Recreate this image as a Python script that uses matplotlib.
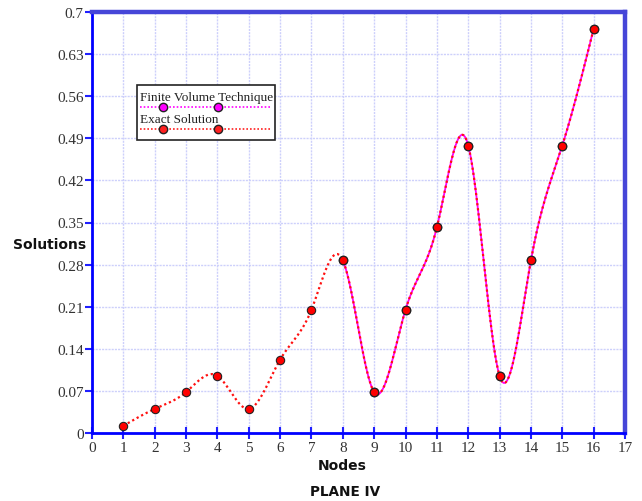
import numpy as np
import matplotlib
matplotlib.use("Agg")
import matplotlib.pyplot as plt
from matplotlib.lines import Line2D
from matplotlib.patches import Rectangle

# ---- data ----
nodes = [1, 2, 3, 4, 5, 6, 7, 8, 9, 10, 11, 12, 13, 14, 15, 16]
exact = [0.012, 0.040, 0.068, 0.095, 0.040, 0.122, 0.205, 0.287,
         0.068, 0.205, 0.342, 0.478, 0.095, 0.287, 0.478, 0.672]
fvt_nodes = [8, 9, 10, 11, 12, 13, 14, 15, 16]
fvt = [0.287, 0.068, 0.205, 0.342, 0.478, 0.095, 0.287, 0.478, 0.672]
xticks = list(range(0, 18))
yticks = [0, 0.07, 0.14, 0.21, 0.28, 0.35, 0.42, 0.49, 0.56, 0.63, 0.7]
ytick_labels = ["0", "0.07", "0.14", "0.21", "0.28", "0.35", "0.42", "0.49", "0.56", "0.63", "0.7"]


def natural_spline(x, y, n=60):
    x = np.asarray(x, float)
    y = np.asarray(y, float)
    k = len(x)
    h = np.diff(x)
    A = np.zeros((k, k))
    b = np.zeros(k)
    A[0, 0] = 1
    A[-1, -1] = 1
    for i in range(1, k - 1):
        A[i, i - 1] = h[i - 1]
        A[i, i] = 2 * (h[i - 1] + h[i])
        A[i, i + 1] = h[i]
        b[i] = 3 * ((y[i + 1] - y[i]) / h[i] - (y[i] - y[i - 1]) / h[i - 1])
    c = np.linalg.solve(A, b)
    xs, ys = [], []
    for i in range(k - 1):
        t = np.linspace(0, h[i], n, endpoint=(i == k - 2))
        bb = (y[i + 1] - y[i]) / h[i] - h[i] * (2 * c[i] + c[i + 1]) / 3
        d = (c[i + 1] - c[i]) / (3 * h[i])
        xs.append(x[i] + t)
        ys.append(y[i] + bb * t + c[i] * t ** 2 + d * t ** 3)
    return np.concatenate(xs), np.concatenate(ys)


W, H = 642, 502
fig = plt.figure(figsize=(W / 100, H / 100), dpi=100)
L, R, T, B = 92, 625, 13, 434
ax = fig.add_axes([L / W, (H - B) / H, (R - L) / W, (B - T) / H])

ax.set_xlim(0, 17)
ax.set_ylim(0, 0.7)

# grid
ax.set_xticks(xticks)
ax.set_yticks(yticks)
ax.grid(True, color="#cdd0fb", linestyle=(0, (1.5, 0.8)), linewidth=1.0)
ax.set_axisbelow(True)

# curves
sx_e, sy_e = natural_spline(nodes, exact)
mask = sx_e >= fvt_nodes[0]
ax.plot(sx_e[mask], sy_e[mask], color="#ff00ff", linewidth=1.3, zorder=3)
ax.plot(sx_e, sy_e, color="#ff1010", linestyle=(0, (1, 1.3)), linewidth=1.6, zorder=4)
ax.plot(fvt_nodes, fvt, linestyle="none", marker="o", markersize=6,
        markerfacecolor="#ff00ff", markeredgecolor="#222222", zorder=5)
ax.plot(nodes, exact, linestyle="none", marker="o", markersize=6,
        markerfacecolor="#ff0000", markeredgecolor="#222222", markeredgewidth=0.8, zorder=6)

# spines
for s in ["left", "bottom"]:
    ax.spines[s].set_color("#0000ff")
    ax.spines[s].set_linewidth(2)
for s in ["top", "right"]:
    ax.spines[s].set_color("#4646d8")
    ax.spines[s].set_linewidth(3.2)

ax.tick_params(axis="x", direction="inout", length=8, width=1.5, color="#2020ff",
               labelsize=11, pad=2)
ax.tick_params(axis="y", direction="out", length=5, width=1.5, color="#2020ff",
               labelsize=11, pad=1)
ax.set_yticklabels(ytick_labels)
for lab in ax.get_xticklabels() + ax.get_yticklabels():
    lab.set_fontfamily("Liberation Serif")
    lab.set_color("#333333")

# axis titles
fig.text(50 / W, 1 - 245 / H, "Solutions", ha="center", va="center",
         fontsize=10, fontweight="bold", family="DejaVu Sans", color="#111111")
fig.text(342 / W, 1 - 466 / H, "Nodes", ha="center", va="center",
         fontsize=10, fontweight="bold", family="DejaVu Sans", color="#111111")
fig.text(345 / W, 1 - 492 / H, "PLANE IV", ha="center", va="center",
         fontsize=9.8, fontweight="bold", family="DejaVu Sans", color="#111111")

# legend (manual, drawn in figure pixel coordinates)
def fx(px):
    return px / W

def fy(py):
    return 1 - py / H

fig.patches.append(Rectangle((fx(137), fy(141)), (275 - 137) / W, (141 - 86) / H,
                             transform=fig.transFigure, facecolor="white",
                             edgecolor="#222222", linewidth=1.2, zorder=10))
entries = [("Finite Volume Technique", "#ff00ff", 98, 108),
           ("Exact Solution", "#ff2020", 120, 130)]
for label, col, ty, ly in entries:
    fig.text(fx(140), fy(ty), label, ha="left", va="center", fontsize=9.5,
             family="Liberation Serif", color="#222222", zorder=11)
    fig.lines.append(Line2D([fx(140), fx(272)], [fy(ly), fy(ly)], transform=fig.transFigure,
                            color=col, linestyle=(0, (1, 1.2)), linewidth=1.2, zorder=11))
    fig.lines.append(Line2D([fx(163), fx(218)], [fy(ly), fy(ly)], transform=fig.transFigure,
                            linestyle="none", marker="o", markersize=6,
                            markerfacecolor=col, markeredgecolor="#222222", zorder=12))

fig.savefig("out.png", dpi=100)
